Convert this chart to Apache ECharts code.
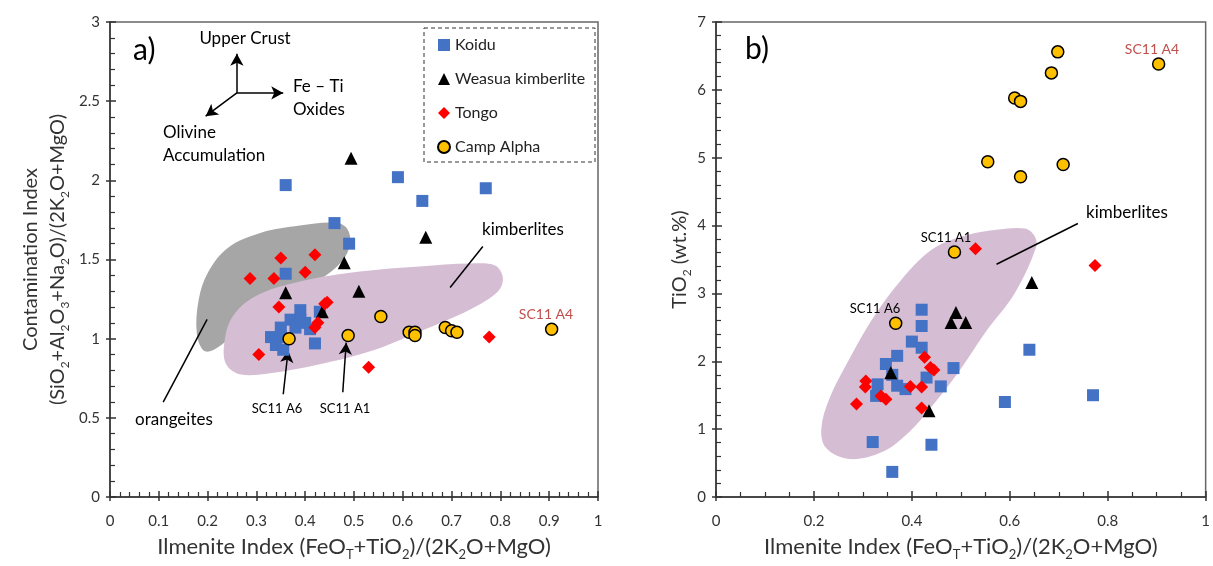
<!DOCTYPE html>
<html>
<head>
<meta charset="utf-8">
<script src="https://cdn.jsdelivr.net/npm/echarts@6/dist/echarts.min.js"></script>
<style>
html,body{margin:0;padding:0;background:#fff;}
#chart{width:1213px;height:566px;}
</style>
</head>
<body>
<div id="chart"></div>
<script>
// 数据 a) Contamination Index vs Ilmenite Index
var koiduA = [[0.36,1.97],[0.59,2.02],[0.64,1.87],[0.77,1.95],[0.46,1.73],[0.49,1.60],[0.36,1.41],[0.39,1.18],[0.43,1.17],[0.37,1.12],[0.39,1.12],[0.40,1.10],[0.35,1.07],[0.38,1.07],[0.41,1.06],[0.33,1.01],[0.35,1.01],[0.34,0.96],[0.355,0.93],[0.42,0.97]];
var weasuaA = [[0.494,2.14],[0.647,1.64],[0.48,1.48],[0.51,1.30],[0.36,1.29],[0.435,1.17]];
var tongoA = [[0.35,1.51],[0.42,1.53],[0.287,1.38],[0.336,1.38],[0.40,1.42],[0.346,1.20],[0.44,1.22],[0.445,1.23],[0.426,1.10],[0.42,1.07],[0.305,0.90],[0.53,0.82],[0.777,1.01]];
var campA = [[0.367,1.00],[0.488,1.02],[0.555,1.14],[0.613,1.04],[0.625,1.04],[0.625,1.02],[0.687,1.07],[0.70,1.05],[0.711,1.04],[0.905,1.06]];

// 数据 b) TiO2 vs Ilmenite Index
var koiduB = [[0.42,2.76],[0.42,2.52],[0.40,2.29],[0.42,2.20],[0.37,2.08],[0.347,1.96],[0.36,1.80],[0.33,1.66],[0.327,1.49],[0.37,1.64],[0.387,1.59],[0.43,1.76],[0.459,1.63],[0.485,1.90],[0.64,2.17],[0.59,1.40],[0.77,1.50],[0.32,0.81],[0.44,0.77],[0.36,0.37]];
var weasuaB = [[0.49,2.72],[0.48,2.57],[0.51,2.57],[0.645,3.16],[0.357,1.83],[0.435,1.27]];
var tongoB = [[0.53,3.66],[0.774,3.41],[0.426,2.06],[0.438,1.91],[0.445,1.87],[0.306,1.71],[0.305,1.62],[0.397,1.63],[0.42,1.62],[0.337,1.49],[0.347,1.44],[0.287,1.37],[0.42,1.31]];
var campB = [[0.367,2.56],[0.487,3.61],[0.555,4.94],[0.709,4.90],[0.622,4.72],[0.61,5.88],[0.622,5.83],[0.685,6.25],[0.698,6.56],[0.904,6.38]];

// 区域轮廓 (数据坐标)
var orangeiteA = [[0.178,1.03],[0.182,1.25],[0.201,1.42],[0.242,1.575],[0.311,1.67],[0.389,1.714],[0.461,1.733],[0.486,1.695],[0.492,1.60],[0.475,1.487],[0.43,1.374],[0.348,1.248],[0.277,1.109],[0.23,0.964],[0.195,0.92]];
var kimberliteA = [[0.234,0.964],[0.25,1.134],[0.297,1.267],[0.389,1.361],[0.512,1.424],[0.635,1.456],[0.738,1.474],[0.789,1.462],[0.805,1.386],[0.795,1.298],[0.738,1.185],[0.635,1.046],[0.533,0.92],[0.43,0.838],[0.328,0.781],[0.266,0.775],[0.238,0.838]];
var kimberliteB = [[0.631,3.956],[0.65,3.853],[0.654,3.691],[0.611,3.015],[0.55,2.426],[0.495,1.838],[0.441,1.338],[0.394,0.956],[0.339,0.662],[0.272,0.559],[0.225,0.721],[0.215,1.0],[0.231,1.441],[0.272,2.029],[0.319,2.618],[0.374,3.162],[0.441,3.647],[0.51,3.853],[0.577,3.941]];

var FONT = 'Lato, "Open Sans", sans-serif';
var names = ['Koidu','Weasua kimberlite','Tongo','Camp Alpha'];

var rich = {
    n:{fontSize:22, lineHeight:28, fontFamily:FONT, color:'#333'},
    s:{fontSize:13, lineHeight:13, verticalAlign:'bottom', fontFamily:FONT, color:'#333'}
};
var richY = {
    n:{fontSize:20, lineHeight:27, fontFamily:FONT, color:'#333'},
    s:{fontSize:12, lineHeight:12, verticalAlign:'bottom', fontFamily:FONT, color:'#333'}
};
var xName = '{n|Ilmenite Index (FeO}{s|T}{n|+TiO}{s|2}{n|)/(2K}{s|2}{n|O+MgO)}';
var yNameA = '{n|Contamination Index}\n{n|(SiO}{s|2}{n|+Al}{s|2}{n|O}{s|3}{n|+Na}{s|2}{n|O)/(2K}{s|2}{n|O+MgO)}';
var yNameB = '{n|TiO}{s|2}{n| (wt.%)}';

function axis(gi, max, interval, minor, name, gap, r, margin){
    return {
        gridIndex:gi, type:'value', min:0, max:max, interval:interval,
        name:name, nameLocation:'middle', nameGap:gap,
        nameTextStyle:{rich:r},
        axisLine:{show:true, onZero:false, lineStyle:{color:'#333', width:1.5}},
        axisTick:{show:true, inside:true, length:6, lineStyle:{color:'#333', width:1.5}},
        minorTick:{show:true, splitNumber:minor, length:5, lineStyle:{color:'#333', width:1.2}},
        splitLine:{show:false},
        axisLabel:{fontSize:15, color:'#333', fontFamily:FONT, margin:margin}
    };
}
// 主刻度外侧部分（穿过坐标轴）
function outerTicks(gi, max, interval, pos){
    return {
        gridIndex:gi, type:'value', min:0, max:max, interval:interval, position:pos,
        axisLine:{show:false}, axisLabel:{show:false}, splitLine:{show:false},
        axisTick:{show:true, inside:false, length:4, lineStyle:{color:'#333', width:1.5}}
    };
}

function blob(points, color){
    return function(params, api){
        return {
            type:'polygon',
            shape:{points:points.map(function(p){ return api.coord(p); }), smooth:0.35},
            style:{fill:color}
        };
    };
}

function seg(a, b, arrow){
    return [{coord:a, symbol:'none'}, {coord:b, symbol: arrow ? 'arrow' : 'none'}];
}

var symStyle = {
    'Koidu':{symbol:'rect', size:12, style:{color:'#4472c4', opacity:1}},
    'Weasua kimberlite':{symbol:'triangle', size:13, style:{color:'#000', opacity:1}},
    'Tongo':{symbol:'diamond', size:13, style:{color:'#ff0000', opacity:1}},
    'Camp Alpha':{symbol:'circle', size:12, style:{color:'#ffc000', borderColor:'#000', borderWidth:1.5, opacity:1}}
};

function pts(name, data, gi){
    var s = symStyle[name];
    return {
        name:name, type:'scatter', xAxisIndex:gi, yAxisIndex:gi, z:5,
        symbol:s.symbol, symbolSize:s.size, itemStyle:s.style, data:data
    };
}

function notes(gi, lines){
    return {
        type:'scatter', xAxisIndex:gi, yAxisIndex:gi, data:[], silent:true, z:4,
        markLine:{
            silent:true, animation:false, symbolSize:[10,12],
            label:{show:false},
            lineStyle:{color:'#000', width:1.5, type:'solid'},
            data:lines
        }
    };
}

function txt(x, y, s, size, opt){
    opt = opt || {};
    return {type:'text', x:x, y:y, z:100, style:{
        text:s, font:size + 'px ' + FONT, fill:opt.color || '#000',
        textAlign:opt.align || 'left', textVerticalAlign:'middle'
    }};
}

var chart = echarts.init(document.getElementById('chart'));
chart.setOption({
    animation:false,
    textStyle:{fontFamily:FONT},
    grid:[
        {left:110, top:22, width:488, height:476, show:true, borderColor:'#666', borderWidth:1.5},
        {left:716, top:22, width:493, height:476, show:true, borderColor:'#666', borderWidth:1.5}
    ],
    xAxis:[
        axis(0, 1, 0.1, 5, xName, 36, rich, 17),
        axis(1, 1, 0.2, 4, xName, 36, rich, 17),
        outerTicks(0, 1, 0.1, 'bottom'),
        outerTicks(1, 1, 0.2, 'bottom')
    ],
    yAxis:[
        axis(0, 3, 0.5, 5, yNameA, 39, richY, 10),
        axis(1, 7, 1, 5, yNameB, 20, richY, 10),
        outerTicks(0, 3, 0.5, 'left'),
        outerTicks(1, 7, 1, 'left')
    ],
    legend:{
        orient:'vertical', left:432, top:32, itemWidth:12, itemHeight:12, itemGap:18,
        textStyle:{fontSize:16, fontFamily:FONT, color:'#222'},
        data:names
    },
    graphic:[
        {type:'rect', z:100, shape:{x:424, y:28, width:171, height:134}, style:{fill:'none', stroke:'#333', lineWidth:1, lineDash:[4,3]}},
        txt(133, 50, 'a)', 30),
        txt(745, 49, 'b)', 30),
        txt(245, 39, 'Upper Crust', 17, {align:'center'}),
        txt(293, 87, 'Fe \u2013 Ti', 17),
        txt(293, 110, 'Oxides', 17),
        txt(163, 133, 'Olivine', 17),
        txt(163, 156, 'Accumulation', 17),
        txt(482, 230, 'kimberlites', 17),
        txt(135, 420, 'orangeites', 17),
        txt(277, 409, 'SC11 A6', 13, {align:'center'}),
        txt(345, 409, 'SC11 A1', 13, {align:'center'}),
        txt(546, 314, 'SC11 A4', 14, {align:'center', color:'#c0504d'}),
        txt(1086, 213, 'kimberlites', 17),
        txt(946, 238, 'SC11 A1', 13, {align:'center'}),
        txt(875, 309, 'SC11 A6', 13, {align:'center'}),
        txt(1152, 49, 'SC11 A4', 14, {align:'center', color:'#c0504d'})
    ],
    series:[
        {type:'custom', xAxisIndex:0, yAxisIndex:0, silent:true, z:1, renderItem:blob(orangeiteA, '#a6a6a6'), data:[[0,0]]},
        {type:'custom', xAxisIndex:0, yAxisIndex:0, silent:true, z:2, renderItem:blob(kimberliteA, '#d5bdd3'), data:[[0,0]]},
        {type:'custom', xAxisIndex:1, yAxisIndex:1, silent:true, z:2, renderItem:blob(kimberliteB, '#d5bdd3'), data:[[0,0]]},
        notes(0, [
            seg([0.260,2.552],[0.260,2.80], true),
            seg([0.260,2.552],[0.355,2.552], true),
            seg([0.260,2.552],[0.196,2.405], true),
            seg([0.764,1.582],[0.697,1.323], false),
            seg([0.109,0.599],[0.199,1.122], false),
            seg([0.355,0.649],[0.365,0.925], true),
            seg([0.477,0.662],[0.484,0.975], true)
        ]),
        notes(1, [
            seg([0.739,4.03],[0.573,3.43], false)
        ]),
        pts('Koidu', koiduA, 0),
        pts('Weasua kimberlite', weasuaA, 0),
        pts('Tongo', tongoA, 0),
        pts('Camp Alpha', campA, 0),
        pts('Koidu', koiduB, 1),
        pts('Weasua kimberlite', weasuaB, 1),
        pts('Tongo', tongoB, 1),
        pts('Camp Alpha', campB, 1)
    ]
});
</script>
</body>
</html>
